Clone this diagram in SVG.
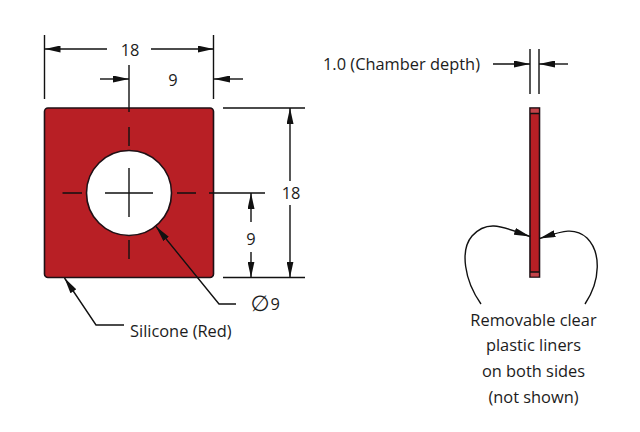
<svg xmlns="http://www.w3.org/2000/svg" width="640" height="432" viewBox="0 0 640 432">
<style>
text{font-family:"Open Sans","Noto Sans",sans-serif;font-size:16.400px;fill:#1c1c1c}
.m{text-anchor:middle}
.l{fill:none;stroke:#111;stroke-width:1.400}
.o{stroke:#1f1015;stroke-width:1.600}
</style>
<defs>
<marker id="a" markerUnits="userSpaceOnUse" markerWidth="16" markerHeight="7" refX="16" refY="3.500" orient="auto-start-reverse"><path d="M0 0L16 3.500L0 7Z" fill="#111"/></marker>
</defs>
<rect width="640" height="432" fill="#fff"/>
<g id="plate">
<path class="o" fill="#b81f25" fill-rule="evenodd" d="M48 108H210a3.500 3.500 0 0 1 3.500 3.500V274a3.500 3.500 0 0 1-3.500 3.500H48a3.500 3.500 0 0 1-3.500-3.500V111.500a3.500 3.500 0 0 1 3.500-3.500ZM171.500 193a42.500 42.500 0 1 0-85 0a42.500 42.500 0 1 0 85 0Z"/>
</g>
<g id="side-view">
<rect class="o" x="530" y="108" width="9.500" height="169" fill="#b81f25"/>
<rect x="530.700" y="108.700" width="8" height="4.500" fill="#c4444a"/>
<rect x="530.700" y="272" width="8" height="4.500" fill="#c4444a"/>
<path class="l" d="M530 113.500H539.500M530 272H539.500"/>
</g>
<g id="connectors">
<g class="l">
<path d="M44.500 35V99M213.500 35V99M129 65V112M129 127V146M129 168V217M105 193H153M62.500 193H82M177 193H196M209 193H265M129 240V259"/>
<path d="M107 49H44.500" marker-end="url(#a)"/>
<path d="M151 49H213.500" marker-end="url(#a)"/>
<path d="M100 79H129" marker-end="url(#a)"/>
<path d="M243 79H214" marker-end="url(#a)"/>
<path d="M223 108H305M223 277.500H305"/>
<path d="M290 181V108" marker-end="url(#a)"/>
<path d="M290 205V277.500" marker-end="url(#a)"/>
<path d="M251 222V193" marker-end="url(#a)"/>
<path d="M251 252V277.500" marker-end="url(#a)"/>
<path d="M236 304H219L156 226.500" marker-end="url(#a)"/>
<path d="M124 325H96L64.500 278" marker-end="url(#a)"/>
<path d="M530 49V94M539 49V94"/>
<path d="M493 64H530" marker-end="url(#a)"/>
<path d="M568 64H539" marker-end="url(#a)"/>
<path d="M481 304C464 280 460 250 472 236C488 218 505 228 530 236.500" marker-end="url(#a)"/>
<path d="M585 304C601 280 601 252 587 238C574 226 560 232 539.500 238.500" marker-end="url(#a)"/>
</g>
</g>
<g id="labels">
<text class="m" x="130" y="56">18</text>
<text class="m" x="173" y="86">9</text>
<text class="m" x="291" y="199">18</text>
<text class="m" x="251" y="245">9</text>
<text x="250.500" y="311" style="font-family:'DejaVu Sans',sans-serif;font-size:22px">∅</text>
<text x="270.500" y="310">9</text>
<text x="130" y="337">Silicone (Red)</text>
<text x="323" y="70">1.0 (Chamber depth)</text>
<text class="m" x="533.500" y="326">Removable clear</text>
<text class="m" x="533.500" y="351">plastic liners</text>
<text class="m" x="533.500" y="377">on both sides</text>
<text class="m" x="533.500" y="403">(not shown)</text>
</g>
</svg>
